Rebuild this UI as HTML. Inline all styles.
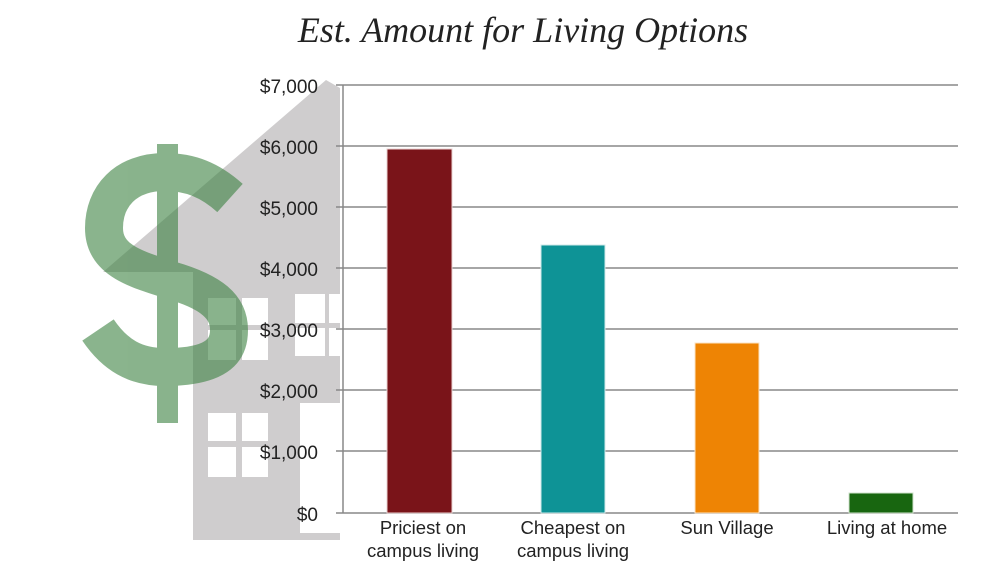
<!DOCTYPE html>
<html><head><style>
body{margin:0;background:#fff;}
svg{display:block;}
</style></head><body>
<svg width="1000" height="586" xmlns="http://www.w3.org/2000/svg">
<rect width="1000" height="586" fill="#fff"/>
<!-- house -->
<path d="M326,80 L340,88 L340,540 L193,540 L193,272 L103,272 Z" fill="#cfcdce"/>
<rect x="300" y="403" width="40" height="130" fill="#fff"/>
<g fill="#fff">
<rect x="208" y="298" width="28" height="27"/><rect x="242" y="298" width="26" height="27"/>
<rect x="208" y="330" width="28" height="30"/><rect x="242" y="330" width="26" height="30"/>
<rect x="295" y="294" width="30" height="29"/><rect x="329" y="294" width="11" height="29"/>
<rect x="295" y="328" width="30" height="28"/><rect x="329" y="328" width="11" height="28"/>
<rect x="208" y="413" width="28" height="28"/><rect x="242" y="413" width="26" height="28"/>
<rect x="208" y="447" width="28" height="30"/><rect x="242" y="447" width="26" height="30"/>
</g>
<!-- dollar -->
<g opacity="0.6">
<path d="M230,198 C210,180 190,172 165,172 C125,172 104,197 104,228 C104,262 140,270 170,280 C212,292 229,307 229,330 C229,360 200,367 165,367 C135,367 115,355 98,330" fill="none" stroke="rgb(60,130,65)" stroke-width="38"/>
<rect x="157" y="144" width="21" height="279" fill="rgb(60,130,65)"/>
</g>
<!-- title -->
<text x="523" y="42" text-anchor="middle" font-family="Liberation Serif, serif" font-style="italic" font-size="36" fill="#222">Est. Amount for Living Options</text>
<!-- grid -->
<g stroke="#888" stroke-width="1.5">
<line x1="343" y1="85" x2="343" y2="513"/>
<line x1="336" y1="85" x2="958" y2="85"/>
<line x1="336" y1="146" x2="958" y2="146"/>
<line x1="336" y1="207" x2="958" y2="207"/>
<line x1="336" y1="268" x2="958" y2="268"/>
<line x1="336" y1="329" x2="958" y2="329"/>
<line x1="336" y1="390" x2="958" y2="390"/>
<line x1="336" y1="451" x2="958" y2="451"/>
<line x1="336" y1="513" x2="958" y2="513"/>
</g>
<g font-family="Liberation Sans, sans-serif" font-size="19" fill="#222" text-anchor="end">
<text x="318" y="93">$7,000</text>
<text x="318" y="154">$6,000</text>
<text x="318" y="215">$5,000</text>
<text x="318" y="276">$4,000</text>
<text x="318" y="337">$3,000</text>
<text x="318" y="398">$2,000</text>
<text x="318" y="459">$1,000</text>
<text x="318" y="521">$0</text>
</g>
<!-- bars -->
<rect x="387" y="149" width="65" height="364" fill="#7a1419" stroke="#e8d0d0" stroke-width="1"/>
<rect x="541" y="245" width="64" height="268" fill="#0e9396" stroke="#d0eaea" stroke-width="1"/>
<rect x="695" y="343" width="64" height="170" fill="#ee8404" stroke="#fbe3c5" stroke-width="1"/>
<rect x="849" y="493" width="64" height="20" fill="#186610" stroke="#d0e3cc" stroke-width="1"/>
<g font-family="Liberation Sans, sans-serif" font-size="18.5" fill="#222" text-anchor="middle">
<text x="423" y="534">Priciest on</text><text x="423" y="557">campus living</text>
<text x="573" y="534">Cheapest on</text><text x="573" y="557">campus living</text>
<text x="727" y="534">Sun Village</text>
<text x="887" y="534">Living at home</text>
</g>
</svg>
</body></html>
